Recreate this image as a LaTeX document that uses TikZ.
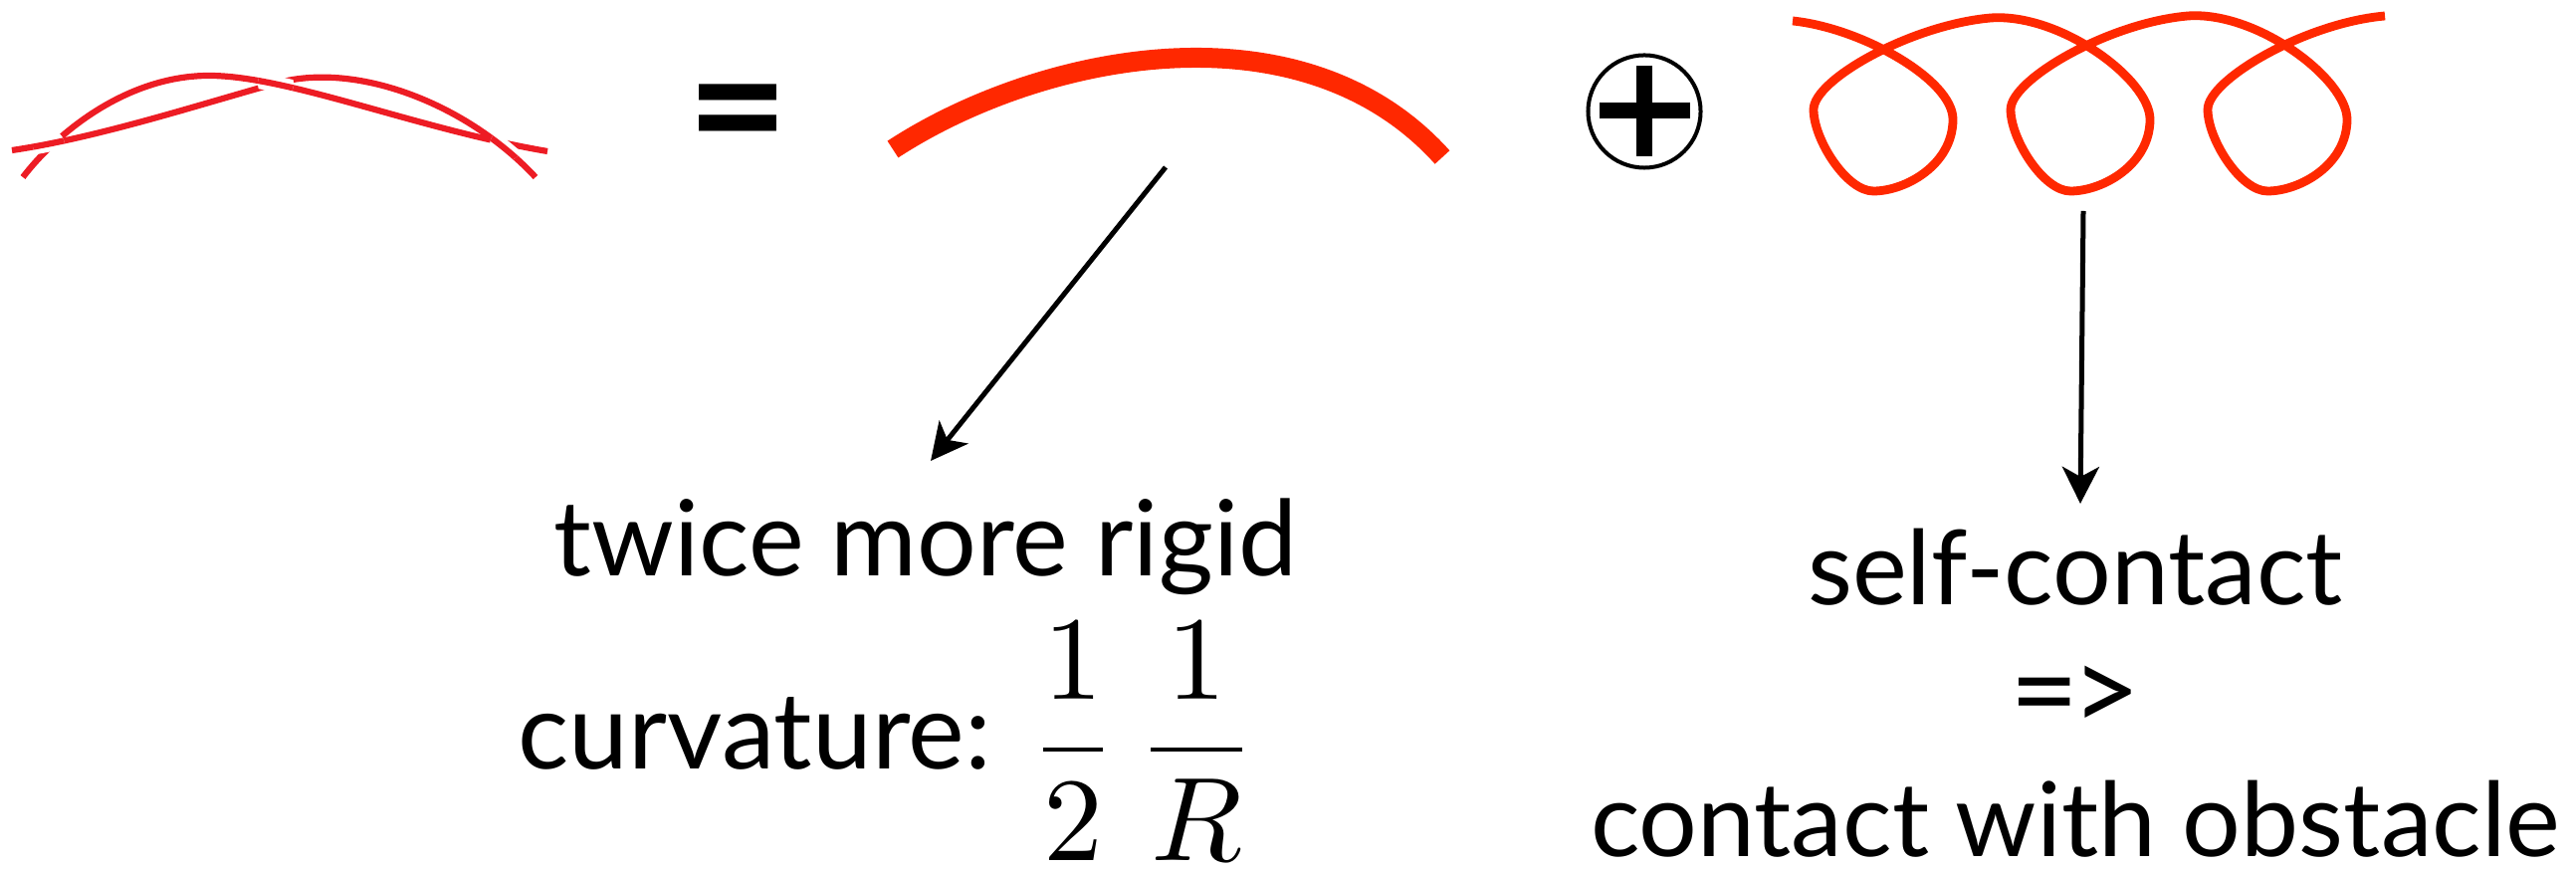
\documentclass[tikz,border=0pt]{standalone}
\usepackage{graphicx}
\usepackage[no-math]{fontspec}
\setmainfont{Lato}
\usetikzlibrary{arrows.meta}
\definecolor{braid}{HTML}{ED1C24}
\definecolor{rod}{HTML}{FF2800}
\tikzset{
  braidline/.style={draw=braid, line width=0.062cm},
  halo/.style={draw=white, line width=0.16cm},
  rodline/.style={draw=rod, line width=0.2cm},
  loopline/.style={draw=rod, line width=0.088cm, line join=round},
  pointer/.style={draw=black, line width=0.05cm, -{Stealth[length=0.37cm, width=0.37cm, inset=0.1cm]}},
  opbar/.style={draw=black, line width=0.16cm},
}
\begin{document}
\begin{tikzpicture}[x=0.01cm, y=-0.01cm]
\path[use as bounding box] (0,0) rectangle (2588,874);

% braided rod (two strands)
\draw[braidline] (23,178) .. controls (60,130) and (130,76) .. (210,76) .. controls (290,76) and (420,130) .. (550,152);
\draw[braidline] (12,151) .. controls (100,138) and (200,105) .. (280,83) .. controls (360,62) and (470,105) .. (538,178);
\begin{scope}
  \clip (49,146) circle (16);
  \draw[halo] (12,151) .. controls (100,138) and (200,105) .. (280,83);
  \draw[braidline] (12,151) .. controls (100,138) and (200,105) .. (280,83);
\end{scope}
\begin{scope}
  \clip (277,84) circle (18);
  \draw[halo] (23,178) .. controls (60,130) and (130,76) .. (210,76) .. controls (290,76) and (420,130) .. (550,152);
  \draw[braidline] (23,178) .. controls (60,130) and (130,76) .. (210,76) .. controls (290,76) and (420,130) .. (550,152);
\end{scope}
\begin{scope}
  \clip (508,146) circle (16);
  \draw[halo] (280,83) .. controls (360,62) and (470,105) .. (538,178);
  \draw[braidline] (280,83) .. controls (360,62) and (470,105) .. (538,178);
\end{scope}

% equals sign
\node[font=\fontsize{50}{50}\selectfont\bfseries, inner sep=0] (eq) at (741,126) {=};

% thick arc
\draw[rodline] (897,150) .. controls (1044,54) and (1307,0) .. (1449,158);

% oplus
\node[draw=black, line width=0.04cm, circle, minimum size=1.13cm, inner sep=0] (op) at (1652,112) {};
\draw[opbar] (1652,66) -- (1652,157);
\draw[opbar] (1607,111) -- (1698,111);

% loops
\draw[loopline] (1801,21) .. controls (1870,28) and (1962,80) .. (1962,120)
  .. controls (1962,165) and (1915,192) .. (1882,192)
  .. controls (1855,192) and (1822,140) .. (1822,110)
  .. controls (1822,80) and (1920,25) .. (2000,18)
  .. controls (2070,13) and (2160,80) .. (2160,120)
  .. controls (2160,165) and (2113,192) .. (2080,192)
  .. controls (2053,192) and (2020,140) .. (2020,110)
  .. controls (2020,80) and (2118,23) .. (2198,16)
  .. controls (2268,11) and (2358,80) .. (2358,120)
  .. controls (2358,165) and (2311,192) .. (2278,192)
  .. controls (2251,192) and (2218,140) .. (2218,110)
  .. controls (2218,80) and (2316,23) .. (2396,16);

% labels
\node[font=\fontsize{30}{36}\selectfont, inner sep=0, anchor=base] (rigid) at (930,579) {twice more rigid};
\node[font=\fontsize{30.5}{36}\selectfont, inner sep=0, anchor=base west] (curv) at (520,773) {curvature:};
\node[inner sep=0, anchor=west] (frac) at (1033,745) {\scalebox{3.4}{$\displaystyle\frac{1}{2}\,\frac{1}{R}$}};
\node[font=\fontsize{29.5}{36}\selectfont, inner sep=0, anchor=base] (self) at (2085,608) {self-contact};
\node[font=\fontsize{34}{40}\selectfont, inner sep=0, anchor=base] (impl) at (2085,736) {=\kern-0.06em>};
\node[font=\fontsize{29.5}{36}\selectfont, inner sep=0, anchor=base] (obst) at (2085,861) {contact with obstacle};

% arrows
\coordinate (a1s) at (1171,168);
\coordinate (a1e) at (935,463);
\coordinate (a2s) at (2093,212);
\coordinate (a2e) at (2090,506);
\draw[pointer] (a1s) -- (a1e);
\draw[pointer] (a2s) -- (a2e);
\end{tikzpicture}
\end{document}
